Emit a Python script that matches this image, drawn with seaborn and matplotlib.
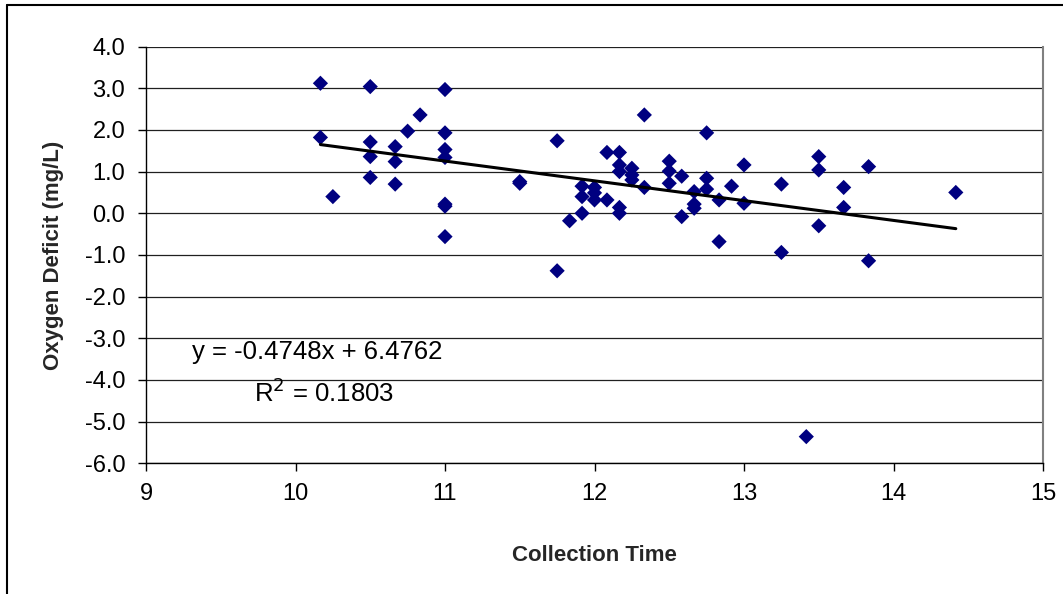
import numpy as np
import pandas as pd
import matplotlib
matplotlib.use("Agg")
import matplotlib.pyplot as plt
import seaborn as sns

# ---- data ----
collection_time = [
    10.1667, 10.1667, 10.25, 10.5, 10.5, 10.5, 10.5, 10.6667, 10.6667, 10.6667,
    10.75, 10.8333, 11.0, 11.0, 11.0, 11.0, 11.0, 11.0, 11.0, 11.5, 11.5,
    11.75, 11.75, 11.8333, 11.9167, 11.9167, 11.9167, 12.0, 12.0, 12.0,
    12.0833, 12.0833, 12.1667, 12.1667, 12.1667, 12.1667, 12.1667,
    12.25, 12.25, 12.25, 12.3333, 12.3333, 12.5, 12.5, 12.5, 12.5833, 12.5833,
    12.6667, 12.6667, 12.6667, 12.75, 12.75, 12.75, 12.8333, 12.8333, 12.9167,
    13.0, 13.0, 13.25, 13.25, 13.4167, 13.5, 13.5, 13.5, 13.6667, 13.6667,
    13.8333, 13.8333, 14.4167,
]
oxygen_deficit = [
    3.12, 1.82, 0.40, 3.04, 1.71, 1.36, 0.86, 1.60, 1.24, 0.70,
    1.97, 2.36, 2.97, 1.93, 1.53, 1.34, 0.22, 0.17, -0.56, 0.76, 0.72,
    1.74, -1.38, -0.18, 0.65, 0.40, 0.00, 0.62, 0.49, 0.32,
    1.46, 0.32, 1.46, 1.16, 1.00, 0.14, 0.00,
    1.08, 0.92, 0.80, 2.36, 0.62, 1.25, 1.01, 0.72, 0.89, -0.08,
    0.52, 0.22, 0.12, 1.93, 0.84, 0.58, 0.32, -0.68, 0.65,
    1.16, 0.24, 0.70, -0.94, -5.36, 1.36, 1.04, -0.30, 0.62, 0.14,
    1.12, -1.14, 0.50,
]
trend_slope = -0.4748
trend_intercept = 6.4762
r_squared = 0.1803

x_ticks = [9, 10, 11, 12, 13, 14, 15]
y_ticks = [4.0, 3.0, 2.0, 1.0, 0.0, -1.0, -2.0, -3.0, -4.0, -5.0, -6.0]

df = pd.DataFrame({"Collection Time": collection_time,
                   "Oxygen Deficit (mg/L)": oxygen_deficit})
x_fit = np.array([min(collection_time), max(collection_time)])
trend = pd.DataFrame({"x": x_fit, "y": trend_slope * x_fit + trend_intercept})

# ---- style ----
sns.set_theme(style="white")
plt.rcParams["font.family"] = ["Liberation Sans", "DejaVu Sans"]

fig = plt.figure(figsize=(10.63, 5.94), dpi=100)
fig.patch.set_facecolor("white")
ax = fig.add_axes([146 / 1063, 1 - 463.3 / 594, (1043 - 146) / 1063, (463.3 - 46.6) / 594])

# gridlines
for v in y_ticks:
    ax.axhline(v, color="#202020", lw=0.9, zorder=0)

sns.scatterplot(data=df, x="Collection Time", y="Oxygen Deficit (mg/L)", ax=ax,
                marker="D", s=60, color="#000080", edgecolor="none", linewidth=0,
                zorder=3)
sns.lineplot(data=trend, x="x", y="y", ax=ax, color="black", lw=2.2, zorder=4)

ax.set_xlim(9, 15)
ax.set_ylim(-6, 4)
ax.set_xticks(x_ticks)
ax.set_xticklabels([str(t) for t in x_ticks])
ax.set_yticks(y_ticks)
ax.set_yticklabels([f"{t:.1f}" for t in y_ticks])

for side in ["left", "bottom"]:
    ax.spines[side].set_color("black")
    ax.spines[side].set_linewidth(1.0)
ax.spines["right"].set_color("#808080")
ax.spines["right"].set_linewidth(1.5)
ax.spines["top"].set_visible(False)

ax.tick_params(axis="both", which="major", direction="out", length=6, width=1,
               color="black", labelsize=17, labelcolor="black", pad=9,
               bottom=True, left=True)
ax.tick_params(axis="x", pad=8)

ax.set_xlabel("Collection Time", fontsize=16, fontweight="bold", labelpad=29)
ax.set_ylabel("Oxygen Deficit (mg/L)", fontsize=16, fontweight="bold", labelpad=15)

ax.text(9.31, -3.33, f"y = {trend_slope:.4f}x + {trend_intercept:.4f}",
        fontsize=18.5, va="center", ha="left", color="black", zorder=5)
ax.text(9.72, -4.31, f"R$^2$ = {r_squared:.4f}",
        fontsize=18.5, va="center", ha="left", color="black", zorder=5)

# outer chart border (left and top visible in the reference)
fig.add_artist(plt.Line2D([7 / 1063, 7 / 1063], [0, 1 - 5 / 594],
                          transform=fig.transFigure, color="black", lw=1.5))
fig.add_artist(plt.Line2D([7 / 1063, 1], [1 - 5 / 594, 1 - 5 / 594],
                          transform=fig.transFigure, color="black", lw=1.5))

fig.savefig("out.png", dpi=100, facecolor="white")
